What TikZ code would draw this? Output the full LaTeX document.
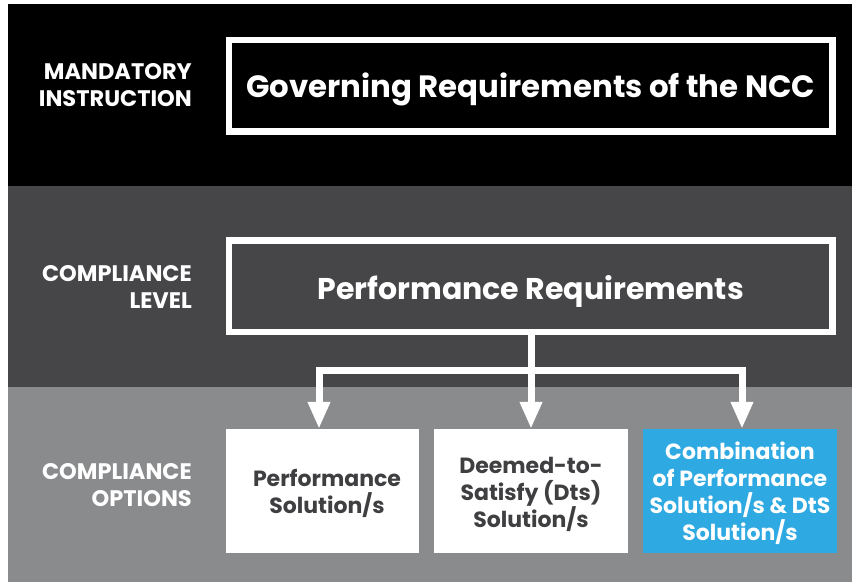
\documentclass[tikz,border=0pt]{standalone}
\usepackage{fontspec}
\setmainfont{Poppins}
\usetikzlibrary{arrows.meta}
\definecolor{bandA}{HTML}{000000}
\definecolor{bandB}{HTML}{464648}
\definecolor{bandC}{HTML}{8A8B8D}
\definecolor{boxtext}{HTML}{3F3F41}
\definecolor{optblue}{HTML}{2EA9E1}
\begin{document}
\begin{tikzpicture}[x=1pt,y=-1pt,
  bigbox/.style={draw=white, line width=6.5pt, minimum width=603.5pt, minimum height=91.5pt,
    inner sep=0pt, text=white, text height=24pt, text depth=0pt},
  optbox/.style={minimum width=194pt, minimum height=124pt, inner sep=0pt, align=center,
    text depth=0pt, font=\fontsize{22}{27}\selectfont\bfseries},
  lbl/.style={anchor=base east, align=right, inner sep=0pt, text=white,
    font=\fontsize{22.5}{27}\selectfont\bfseries},
  conn/.style={draw=white, line width=7pt, line join=miter},
  bigtri/.tip={Triangle[width=21pt,length=27pt]}
]
\useasboundingbox (0,0) rectangle (852,582);
\fill[white] (0,0) rectangle (852,582);
\fill[bandA] (8,4) rectangle (852,186);
\fill[bandB] (8,186) rectangle (852,387);
\fill[bandC] (8,387) rectangle (852,582);

\node[bigbox, font=\fontsize{30.8}{36}\selectfont\bfseries] (gov) at (530.75,85.75) {Governing Requirements of the NCC};
\node[bigbox, font=\fontsize{30}{36}\selectfont\bfseries, text height=25.5pt] (pr) at (530.75,286.25) {Performance Requirements};

\node[optbox, fill=white, text=boxtext, minimum width=193pt, text height=45pt] (s1) at (322.5,491)
  {\hspace*{9pt}Performance\\\hspace*{9pt}Solution/s};
\node[optbox, fill=white, text=boxtext, text height=72pt] (s2) at (531,491)
  {Deemed-to-\\Satisfy (Dts)\\Solution/s};
\node[optbox, fill=optblue, text=white, text height=99pt] (s3) at (740,491)
  {Combination\\of Performance\\Solution/s \& DtS\\Solution/s};

\node[lbl] (l1) at (192,106.5) {MANDATORY\\INSTRUCTION};
\node[lbl] (l2) at (192,308) {COMPLIANCE\\LEVEL};
\node[lbl] (l3) at (192,506) {COMPLIANCE\\OPTIONS};

\coordinate (jl) at (319,370);
\coordinate (jr) at (742,370);
\draw[conn, -bigtri] (pr.south -| s2.north) -- (s2.north);
\draw[conn, bigtri-bigtri] (jl |- s1.north) -- (jl) -- (jr) -- (jr |- s3.north);
\end{tikzpicture}
\end{document}
